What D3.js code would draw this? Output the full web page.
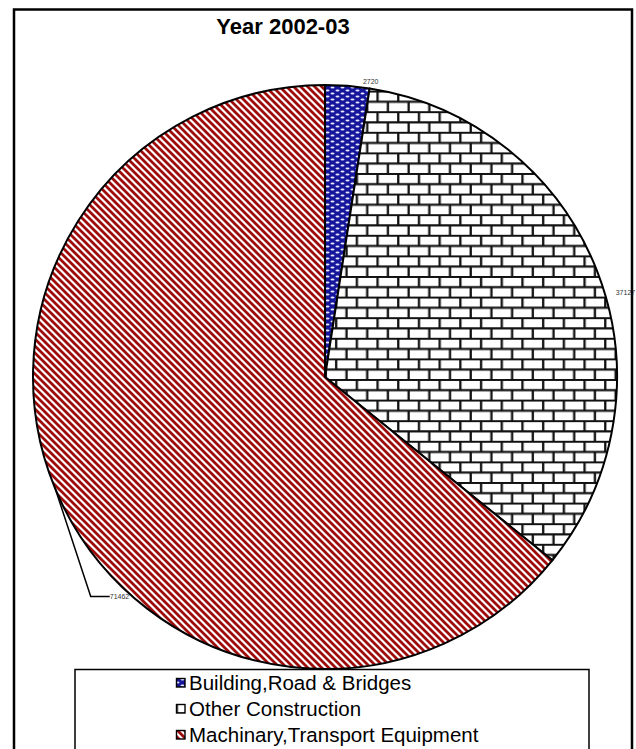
<!DOCTYPE html>
<html>
<head>
<meta charset="utf-8">
<script src="https://cdn.jsdelivr.net/npm/d3@7/dist/d3.min.js"></script>
<style>
  html, body { margin: 0; padding: 0; background: #fff; }
  svg { display: block; font-family: Arial, "Liberation Sans", sans-serif; }
</style>
</head>
<body>
<svg id="chart" width="636" height="749"></svg>
<script>
const title = "Year 2002-03";
const categories = ["Building,Road & Bridges", "Other Construction", "Machinary,Transport Equipment"];
const values = [2720, 37127, 71462];
const valueLabels = ["2720", "37127", "71462"];
const patternIds = ["pBlue", "pBrick", "pRed"];

const svg = d3.select("#chart");
const defs = svg.append("defs");

// Blue dotted pattern
const pb = defs.append("pattern").attr("id", "pBlue").attr("patternUnits", "userSpaceOnUse")
  .attr("width", 10).attr("height", 6);
pb.append("rect").attr("width", 10).attr("height", 6).attr("fill", "#16169c");
pb.append("ellipse").attr("cx", 2.5).attr("cy", 1.5).attr("rx", 2).attr("ry", 0.9).attr("fill", "#e8e8ff");
pb.append("ellipse").attr("cx", 7.5).attr("cy", 4.5).attr("rx", 2).attr("ry", 0.9).attr("fill", "#e8e8ff");

// Brick pattern
const bw = 20.7, bh = 10.3;
const pk = defs.append("pattern").attr("id", "pBrick").attr("patternUnits", "userSpaceOnUse")
  .attr("width", bw).attr("height", bh * 2).attr("x", 6).attr("y", 2);
pk.append("rect").attr("width", bw).attr("height", bh * 2).attr("fill", "#fff");
pk.append("path")
  .attr("d", `M0,0.8H${bw}M0,${bh + 0.8}H${bw}M${bw * 0.25},0.8V${bh + 0.8}M${bw * 0.75},${bh + 0.8}V${bh * 2 + 0.8}`)
  .attr("stroke", "#111").attr("stroke-width", 2.3).attr("fill", "none");

// Red diagonal stripes
const s = 7;
const pr = defs.append("pattern").attr("id", "pRed").attr("patternUnits", "userSpaceOnUse")
  .attr("width", s).attr("height", s);
pr.append("rect").attr("width", s).attr("height", s).attr("fill", "#fff");
pr.append("path")
  .attr("d", `M-1,-1L${s + 1},${s + 1}M-1,${s - 1}L1,${s + 1}M${s - 1},-1L${s + 1},1`)
  .attr("stroke", "#9e0c0c").attr("stroke-width", 2.8).attr("fill", "none");

// Outer frame
svg.append("rect").attr("x", 14).attr("y", 9.5).attr("width", 618).attr("height", 780)
  .attr("fill", "none").attr("stroke", "#000").attr("stroke-width", 2.5);

// Title
svg.append("text").attr("x", 283).attr("y", 34).attr("text-anchor", "middle")
  .attr("font-size", 22).attr("font-weight", "bold").attr("fill", "#000").text(title);

// Pie
const cx = 325, cy = 377, r = 292;
const pie = d3.pie().sort(null).value(d => d);
const arcs = pie(values);
const arc = d3.arc().innerRadius(0).outerRadius(r);
const g = svg.append("g").attr("transform", `translate(${cx},${cy})`);
g.selectAll("path.slice").data(arcs).enter().append("path").attr("class", "slice")
  .attr("d", arc)
  .attr("fill", (d, i) => `url(#${patternIds[i]})`)
  .attr("stroke", "#000").attr("stroke-width", 2).attr("stroke-linejoin", "round");

function polar(a, rad) { return [Math.sin(a) * rad, -Math.cos(a) * rad]; }

// Data labels
const lab = g.append("g").attr("font-size", 7).attr("fill", "#333");
{
  const d = arcs[0];
  const p = polar(d.endAngle, r + 7);
  lab.append("text").attr("x", p[0]).attr("y", p[1] + 2.5).attr("text-anchor", "middle").text(valueLabels[0]);
}
{
  const d = arcs[1];
  const a = d.startAngle + (d.endAngle - d.startAngle) * 0.546;
  const p = polar(a, r + 20);
  lab.append("text").attr("x", p[0]).attr("y", p[1] + 2.5).attr("text-anchor", "middle").text(valueLabels[1]);
}
{
  const d = arcs[2];
  const a = d.startAngle + (d.endAngle - d.startAngle) * 0.513;
  const p0 = polar(a, r);
  const p1 = polar(d.startAngle + (d.endAngle - d.startAngle) * 0.424, r + 29);
  const p2 = [p1[0] + 19, p1[1]];
  g.append("path").attr("d", `M${p0[0]},${p0[1]}L${p1[0]},${p1[1]}L${p2[0]},${p2[1]}`)
    .attr("fill", "none").attr("stroke", "#000").attr("stroke-width", 1.5);
  lab.append("text").attr("x", p2[0]).attr("y", p2[1] + 2.5).attr("text-anchor", "start").text(valueLabels[2]);
}

// Legend
svg.append("rect").attr("x", 75).attr("y", 669.5).attr("width", 514).attr("height", 120)
  .attr("fill", "#fff").attr("stroke", "#000").attr("stroke-width", 1.5);
const leg = svg.append("g");
const rowY = d3.scalePoint().domain(categories).range([683, 735]);
categories.forEach((c, i) => {
  const y = rowY(c);
  leg.append("rect").attr("x", 176.5).attr("y", y - 4.5).attr("width", 8.5).attr("height", 8.5)
    .attr("fill", `url(#${patternIds[i]})`).attr("stroke", "#000").attr("stroke-width", 1.4);
  leg.append("text").attr("x", 189).attr("y", y + 7).attr("font-size", 20.5).attr("fill", "#000").text(c);
});
</script>
</body>
</html>
